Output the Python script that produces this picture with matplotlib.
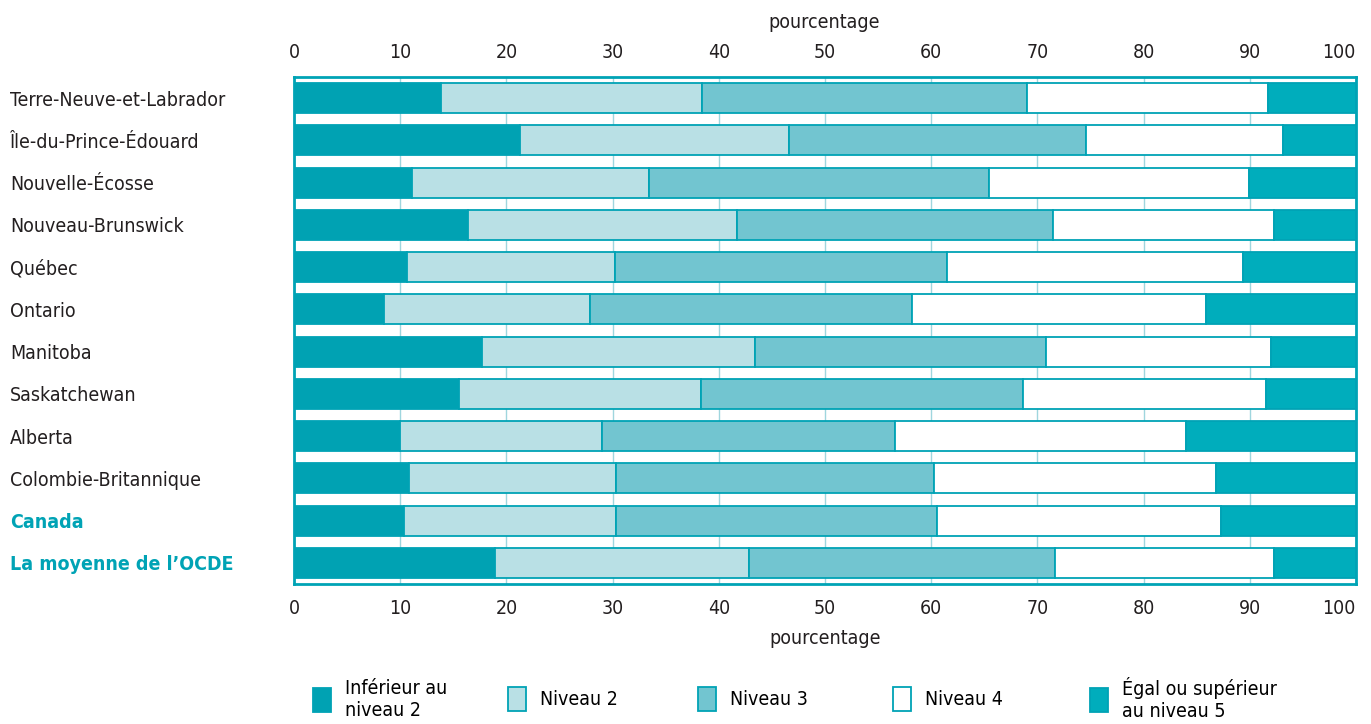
import matplotlib
matplotlib.use("Agg")
import matplotlib.pyplot as plt
from matplotlib.patches import Patch
import numpy as np

plt.rcParams['font.family'] = ['Liberation Sans Narrow', 'DejaVu Sans']
plt.rcParams['font.stretch'] = 'condensed'

categories = ["Terre-Neuve-et-Labrador", "Île-du-Prince-Édouard", "Nouvelle-Écosse",
              "Nouveau-Brunswick", "Québec", "Ontario", "Manitoba", "Saskatchewan",
              "Alberta", "Colombie-Britannique", "Canada", "La moyenne de l’OCDE"]

# cumulative boundaries (percent)
below2 = [13.8, 21.3, 11.1, 16.4, 10.6, 8.5, 17.7, 15.5, 10.0, 10.8, 10.4, 18.9]
cum2   = [38.4, 46.6, 33.4, 41.7, 30.2, 27.9, 43.4, 38.3, 29.0, 30.3, 30.3, 42.8]
cum3   = [69.0, 74.6, 65.4, 71.5, 61.5, 58.2, 70.8, 68.6, 56.6, 60.3, 60.5, 71.7]
cum4   = [91.7, 93.1, 89.9, 92.3, 89.4, 85.9, 92.0, 91.5, 84.0, 86.8, 87.3, 92.3]

level2 = list(np.round(np.array(cum2) - np.array(below2), 1))
level3 = list(np.round(np.array(cum3) - np.array(cum2), 1))
level4 = list(np.round(np.array(cum4) - np.array(cum3), 1))
level5 = list(np.round(100 - np.array(cum4), 1))

series_names = ["Inférieur au\nniveau 2", "Niveau 2", "Niveau 3", "Niveau 4",
                "Égal ou supérieur\nau niveau 5"]
series = [below2, level2, level3, level4, level5]
colors = ["#00A2B3", "#B9E0E5", "#72C5D0", "#FFFFFF", "#00ADBC"]
edge = "#00A3B5"
xticks = [0, 10, 20, 30, 40, 50, 60, 70, 80, 90, 100]

FS = 14

fig = plt.figure(figsize=(13.71, 7.24), dpi=100)
ax = fig.add_axes([294/1371, 1-584/724, (1356-294)/1371, (584-77)/724])

y = np.arange(len(categories))
left = np.zeros(len(categories))
for vals, col in zip(series, colors):
    ax.barh(y, vals, left=left, height=0.71, color=col, edgecolor=edge,
            linewidth=1.3, zorder=2)
    left += np.array(vals)

ax.set_xlim(0, 100)
ax.set_ylim(len(categories) - 0.5, -0.5)
ax.set_xticks(xticks)
ax.set_xticklabels([str(t) for t in xticks])
ax.xaxis.grid(True, color="#9FD6DE", linewidth=1.0, zorder=0)
ax.set_axisbelow(True)
ax.tick_params(axis='x', length=0, labelsize=FS, pad=11, labeltop=True,
               top=False, labelcolor="#231F20")
for s in ax.spines.values():
    s.set_color(edge)
    s.set_linewidth(2)

# last tick label sits flush with the right edge (top and bottom)
fig.canvas.draw()
for t in ax.xaxis.get_major_ticks()[-1:]:
    t.label1.set_ha('right')
    t.label2.set_ha('right')

ax.set_yticks(y)
ax.set_yticklabels(categories)
ax.tick_params(axis='y', length=0, pad=(294 - 10) * 0.72, labelsize=FS,
               labelcolor="#231F20")
for lab in ax.get_yticklabels():
    lab.set_ha('left')
for lab in ax.get_yticklabels()[-2:]:
    lab.set_color(edge)
    lab.set_fontweight('bold')

ax.set_xlabel("pourcentage", fontsize=FS, color="#231F20", labelpad=8)
fig.text(824/1371, 1 - 22/724, "pourcentage", fontsize=FS, color="#231F20",
         ha='center', va='center')

legend_x = [313, 508, 698, 893, 1090]
for name, col, lx in zip(series_names, colors, legend_x):
    h = Patch(facecolor=col, edgecolor=edge, linewidth=1.3)
    fig.legend(handles=[h], labels=[name], loc='center left',
               bbox_to_anchor=(lx/1371, 1 - 699/724), frameon=False,
               fontsize=FS, handlelength=0.9, handleheight=1.5,
               handletextpad=0.75, borderpad=0, borderaxespad=0,
               labelspacing=0)

fig.savefig("out.png", dpi=100)
